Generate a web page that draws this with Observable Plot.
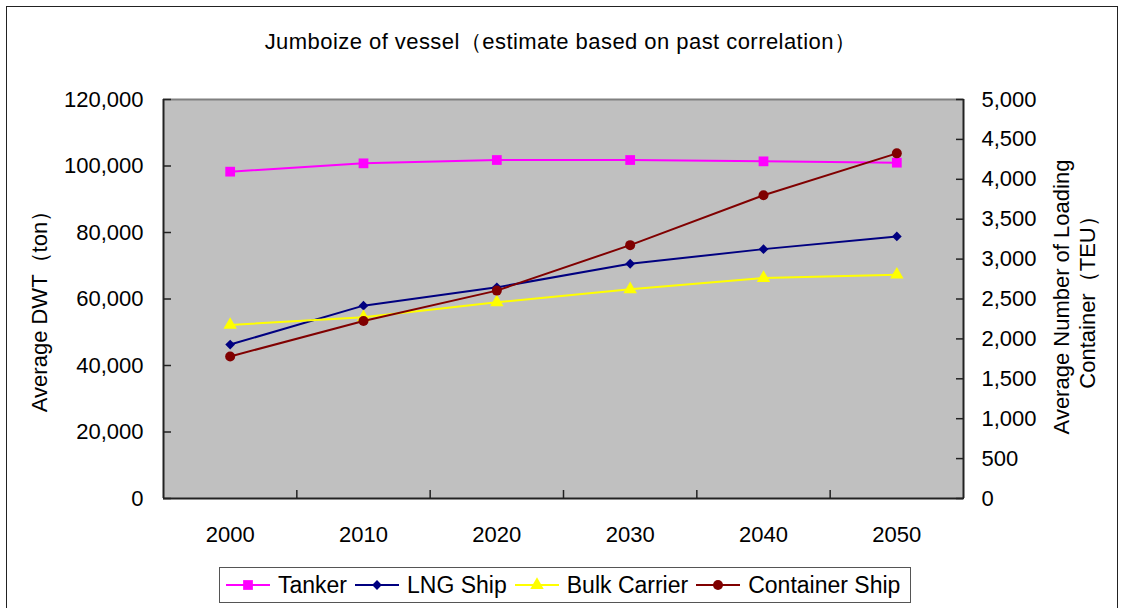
<!DOCTYPE html>
<html><head><meta charset="utf-8">
<script src="https://cdn.jsdelivr.net/npm/d3@7"></script>
<script src="https://cdn.jsdelivr.net/npm/@observablehq/plot@0.6"></script>
<style>
body{margin:0;background:#fff;font-family:"Liberation Sans",Arial,sans-serif;}
#wrap{position:relative;width:1121px;height:608px;overflow:hidden;}
#frame{position:absolute;left:6px;top:6px;width:1112px;height:660px;border:1.5px solid #222;box-sizing:border-box;}
#title{position:absolute;top:27px;left:0;width:1121px;text-align:center;font-size:22px;letter-spacing:0.45px;color:#000;white-space:nowrap;}
#chart{position:absolute;left:0;top:0;}
.ytitle{position:absolute;font-size:22px;white-space:nowrap;text-align:center;line-height:26px;}
#legend{position:absolute;left:219px;top:567px;width:692px;height:36px;border:1.5px solid #555;background:#fff;box-sizing:border-box;display:flex;align-items:center;font-size:23px;padding-left:5px;}
#legend .item{display:flex;align-items:center;margin-right:7px;}
#legend svg{margin-right:7px;}
</style></head><body>
<div id="wrap">
  <div id="frame"></div>
  <div id="chart"></div>
  <div id="title">Jumboize of vessel（estimate based on past correlation）</div>
  <div class="ytitle" id="ylab">Average DWT（ton）</div>
  <div class="ytitle" id="ylab2">Average Number of Loading<br>Container（TEU）</div>
  <div id="legend"></div>
</div>
<script>
// ---- data ----
const years = [2000, 2010, 2020, 2030, 2040, 2050];
const seriesNames = ["Tanker", "LNG Ship", "Bulk Carrier", "Container Ship"];
const tanker = [98300, 100800, 101800, 101800, 101400, 101000];          // DWT (ton)
const lngShip = [46300, 58000, 63500, 70600, 75000, 78800];             // DWT (ton)
const bulkCarrier = [52200, 54500, 59000, 62900, 66300, 67300];        // DWT (ton)
const containerShip = [1780, 2225, 2605, 3175, 3800, 4325];            // TEU (right axis)
const leftTicks = [0, 20000, 40000, 60000, 80000, 100000, 120000];
const rightTicks = [0, 500, 1000, 1500, 2000, 2500, 3000, 3500, 4000, 4500, 5000];

// ---- styles ----
const leftMax = 120000, rightMax = 5000, ratio = leftMax / rightMax;
const style = {
  "Tanker": {color: "#FF00FF", symbol: "square", r: 5.5},
  "LNG Ship": {color: "#000080", symbol: "diamond2", r: 4.4},
  "Bulk Carrier": {color: "#FFFF00", symbol: "triangle", r: 5},
  "Container Ship": {color: "#800000", symbol: "circle", r: 5}
};

const valuesBySeries = [tanker, lngShip, bulkCarrier, containerShip];
const rows = [];
seriesNames.forEach((name, i) => {
  valuesBySeries[i].forEach((v, j) => {
    rows.push({series: name, year: years[j], value: name === "Container Ship" ? v * ratio : v});
  });
});

const step = years[1] - years[0];
const xDomain = [years[0] - step / 2, years[years.length - 1] + step / 2];
const boundaries = years.slice(1).map(y => y - step / 2);
const fmt = d3.format(",");

const marks = [
  Plot.frame({fill: "#C0C0C0", stroke: "none"}),
  Plot.ruleY([leftMax], {stroke: "#808080", strokeWidth: 2}),
  Plot.ruleX([xDomain[0]], {stroke: "#222", strokeWidth: 2}),
  Plot.ruleX([xDomain[1]], {stroke: "#222", strokeWidth: 2}),
  Plot.ruleY([0], {stroke: "#222", strokeWidth: 2}),
  // left axis
  Plot.axisY({anchor: "left", ticks: leftTicks, tickSize: 0, tickPadding: 20, tickFormat: fmt, fontSize: 22, label: null}),
  Plot.axisY({anchor: "left", ticks: leftTicks, tickSize: -8, tickFormat: () => "", label: null, stroke: "#222", strokeWidth: 1.5}),
  // right axis
  Plot.axisY({anchor: "right", ticks: rightTicks.map(v => v * ratio), tickSize: 0, tickPadding: 18, tickFormat: d => fmt(Math.round(d / ratio)), fontSize: 22, label: null}),
  Plot.axisY({anchor: "right", ticks: rightTicks.map(v => v * ratio), tickSize: -8, tickFormat: () => "", label: null, stroke: "#222", strokeWidth: 1.5}),
  // x axis
  Plot.axisX({ticks: years, tickSize: 0, tickPadding: 28, tickFormat: d => String(d), fontSize: 22, label: null}),
  Plot.axisX({ticks: boundaries, tickSize: -8, tickFormat: () => "", label: null, stroke: "#222", strokeWidth: 1.5})
];
seriesNames.forEach(name => {
  const data = rows.filter(d => d.series === name);
  const s = style[name];
  marks.push(Plot.line(data, {x: "year", y: "value", stroke: s.color, strokeWidth: 2}));
  marks.push(Plot.dot(data, {x: "year", y: "value", symbol: () => s.symbol, fill: s.color, stroke: "none", r: s.r}));
});

const chart = Plot.plot({
  width: 1121,
  height: 608,
  marginLeft: 163,
  marginRight: 158,
  marginTop: 99,
  marginBottom: 110,
  style: {background: "transparent", fontFamily: "'Liberation Sans', Arial, sans-serif", color: "#000"},
  x: {type: "linear", domain: xDomain},
  y: {domain: [0, leftMax]},
  symbol: {type: "identity"},
  marks
});
document.getElementById("chart").appendChild(chart);

// axis titles
const yl = document.getElementById("ylab");
yl.style.left = "40px"; yl.style.top = "306px";
yl.style.transform = "translate(-50%,-50%) rotate(-90deg)";
const yl2 = document.getElementById("ylab2");
yl2.style.left = "1075px"; yl2.style.top = "297px";
yl2.style.transform = "translate(-50%,-50%) rotate(-90deg)";

// legend
const lg = document.getElementById("legend");
seriesNames.forEach(name => {
  const s = style[name];
  const item = document.createElement("div");
  item.className = "item";
  const svg = d3.create("svg").attr("width", 46).attr("height", 16);
  svg.append("line").attr("x1", 1).attr("x2", 45).attr("y1", 8).attr("y2", 8).attr("stroke", s.color).attr("stroke-width", 2);
  const sym = {square: d3.symbolSquare, diamond2: d3.symbolDiamond2, triangle: d3.symbolTriangle, circle: d3.symbolCircle}[s.symbol];
  svg.append("path").attr("transform", "translate(23,8)").attr("d", d3.symbol(sym, Math.PI * s.r * s.r)()).attr("fill", s.color);
  item.appendChild(svg.node());
  const t = document.createElement("span");
  t.textContent = name;
  item.appendChild(t);
  lg.appendChild(item);
});
</script>
</body></html>
